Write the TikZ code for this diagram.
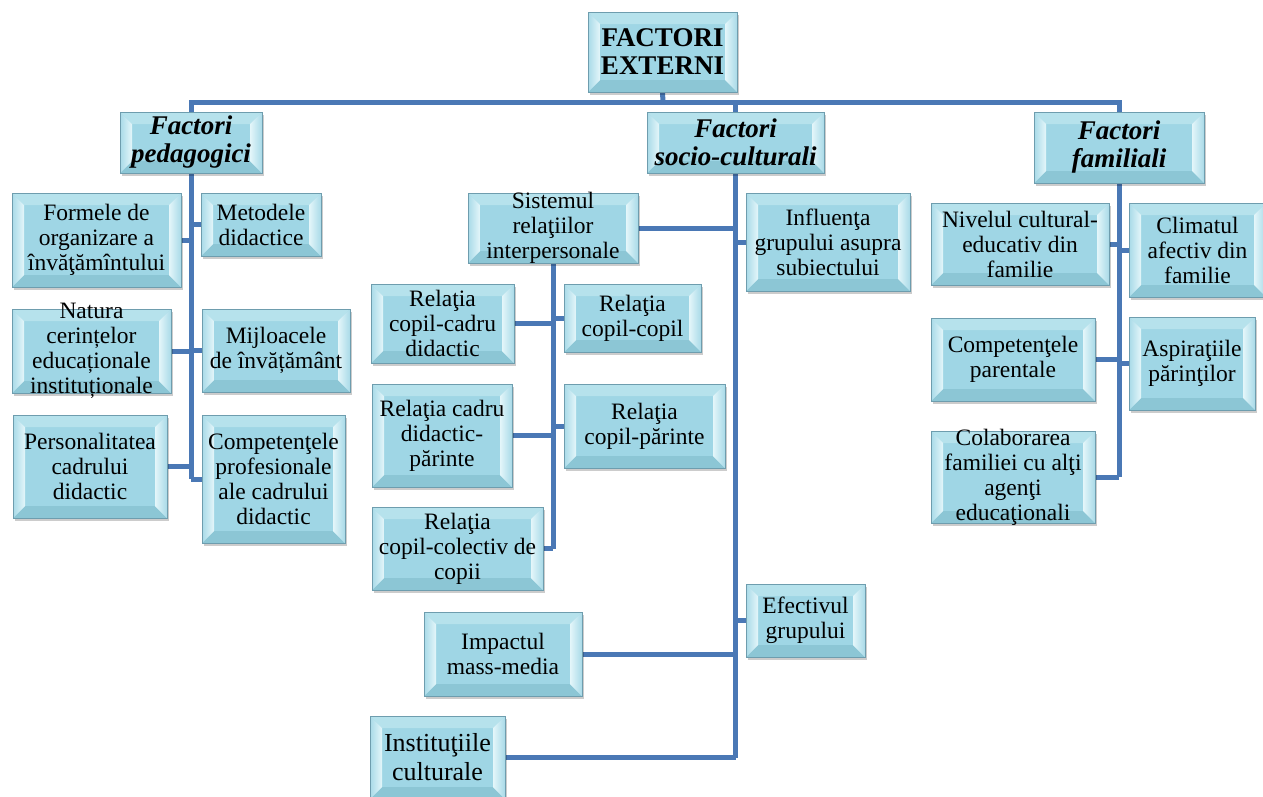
\documentclass[tikz,border=0pt]{standalone}
\usepackage{fontspec}
\setmainfont{Liberation Serif}
\usetikzlibrary{shadows}
\pgfdeclarelayer{bg}
\pgfsetlayers{bg,main}
\definecolor{boxfill}{HTML}{9FD6E5}
\definecolor{boxborder}{HTML}{6E9DAE}
\definecolor{bvtopc}{HTML}{B6E2EC}
\definecolor{bvbotc}{HTML}{8CC6D5}
\definecolor{bvlite}{HTML}{E4F6FA}
\definecolor{linkc}{HTML}{4A78B5}
\tikzset{
  bevel/.style={path picture={
    \def\bvw{12}
    \path (path picture bounding box.north west) coordinate (q1)
          (path picture bounding box.north east) coordinate (q2)
          (path picture bounding box.south east) coordinate (q3)
          (path picture bounding box.south west) coordinate (q4);
    \fill[bvtopc] (q1) -- (q2) -- ([shift={(-\bvw,\bvw)}]q2) -- ([shift={(\bvw,\bvw)}]q1) -- cycle;
    \fill[bvbotc] (q4) -- (q3) -- ([shift={(-\bvw,-\bvw)}]q3) -- ([shift={(\bvw,-\bvw)}]q4) -- cycle;
    \shade[left color=boxfill!90!white, right color=bvlite] (q1) -- ([shift={(\bvw,\bvw)}]q1) -- ([shift={(\bvw,-\bvw)}]q4) -- (q4) -- cycle;
    \shade[left color=bvlite, right color=boxfill!90!white] (q2) -- ([shift={(-\bvw,\bvw)}]q2) -- ([shift={(-\bvw,-\bvw)}]q3) -- (q3) -- cycle;
  }},
  box/.style={rectangle, draw=boxborder, line width=0.8pt, fill=boxfill, inner sep=0pt,
    bevel, drop shadow={shadow xshift=2pt, shadow yshift=-3pt, opacity=0.2, fill=black}},
  body/.style={align=center, inner sep=0pt, font=\fontsize{23.5}{25}\selectfont},
  big/.style={align=center, inner sep=0pt, font=\fontsize{26}{29}\selectfont},
  head/.style={align=center, inner sep=0pt, font=\fontsize{27}{28}\selectfont\bfseries\itshape},
  title/.style={align=center, inner sep=0pt, font=\fontsize{27}{28}\selectfont\bfseries},
  link/.style={draw=linkc, line width=5pt}
}
\newcommand\mybox[7]{%
  \pgfmathsetmacro\cxx{(#2+#4)/2}\pgfmathsetmacro\cyy{(#3+#5)/2}%
  \pgfmathsetmacro\www{#4-#2}\pgfmathsetmacro\hhh{#5-#3}%
  \node[box, minimum width=\www pt, minimum height=\hhh pt,
        label={[#6]center:{#7}}] (#1) at (\cxx,\cyy) {};}
\begin{document}
\begin{tikzpicture}[x=1pt,y=-1pt]
\useasboundingbox (0,0) rectangle (1263,796);
\begin{pgfonlayer}{bg}
\fill[white] (0,0) rectangle (1263,796);
\end{pgfonlayer}
% top levels
\mybox{root}{588}{12}{737}{92}{title}{FACTORI\\EXTERNI}
\mybox{ped}{120}{112}{262}{173}{head}{Factori\\pedagogici}
\mybox{soc}{647}{112}{824}{173}{head}{Factori\\socio-culturali}
\mybox{fam}{1034}{112}{1204}{183}{head}{Factori\\familiali}
% pedagogici
\mybox{formele}{12}{193}{181}{287}{body}{Formele de\\organizare a\\învăţămîntului}
\mybox{metodele}{201}{193}{321}{256}{body}{Metodele\\didactice}
\mybox{natura}{12}{309}{171}{393}{body}{Natura\\cerințelor\\educaționale\\instituționale}
\mybox{mijloace}{202}{309}{350}{392}{body}{Mijloacele\\de învățământ}
\mybox{personal}{13}{415}{167}{518}{body}{Personalitatea\\cadrului\\didactic}
\mybox{compet}{202}{415}{345}{543}{body}{Competenţele\\profesionale\\ale cadrului\\didactic}
% socio-culturali
\mybox{sistem}{468}{193}{638}{263}{body}{Sistemul\\relaţiilor\\interpersonale}
\mybox{influ}{746}{193}{910}{291}{body}{Influenţa\\grupului asupra\\subiectului}
\mybox{rcc}{371}{284}{514}{363}{body}{Relaţia\\copil-cadru\\didactic}
\mybox{rcopil}{564}{284}{701}{352}{body}{Relaţia\\copil-copil}
\mybox{rcdp}{372}{384}{512}{487}{body}{Relaţia cadru\\didactic-\\părinte}
\mybox{rcp}{564}{384}{725}{468}{body}{Relaţia\\copil-părinte}
\mybox{rcol}{372}{507}{543}{590}{body}{Relaţia\\copil-colectiv de\\copii}
\mybox{impact}{424}{612}{582}{696}{body}{Impactul\\mass-media}
\mybox{instit}{370}{716}{505}{799}{big}{Instituţiile\\culturale}
\mybox{efectiv}{746}{584}{865}{657}{body}{Efectivul\\grupului}
% familiali
\mybox{nivel}{931}{203}{1109}{285}{body}{Nivelul cultural-\\educativ din\\familie}
\mybox{climat}{1129}{203}{1266}{297}{body}{Climatul\\afectiv din\\familie}
\mybox{compp}{931}{318}{1095}{401}{body}{Competenţele\\parentale}
\mybox{aspir}{1129}{317}{1255}{410}{body}{Aspiraţiile\\părinţilor}
\mybox{colab}{931}{431}{1095}{523}{body}{Colaborarea\\familiei cu alţi\\agenţi\\educaţionali}
% connectors
\begin{pgfonlayer}{bg}
\coordinate (bus) at (663,102);
\draw[link] (root.south) -- (bus);
\draw[link] (ped.north) |- (bus) -| (fam.north);
\draw[link] (soc.north) -- (soc.north |- bus);
% pedagogici trunk
\draw[link] (ped.south) -- (ped.south |- compet.west);
\foreach \n in {formele,natura,personal} \draw[link] (\n.east) -- (\n.east -| ped.south);
\foreach \n in {metodele,mijloace} \draw[link] (\n.west) -- (\n.west -| ped.south);
\draw[link] (compet.west) -- (compet.west -| ped.south);
% socio trunk
\draw[link] (soc.south) -- (soc.south |- instit.east);
\draw[link] (sistem.east) -- (sistem.east -| soc.south);
\foreach \n in {influ,efectiv} \draw[link] (\n.west) -- (\n.west -| soc.south);
\foreach \n in {impact,instit} \draw[link] (\n.east) -- (\n.east -| soc.south);
% sistem trunk
\draw[link] (sistem.south) -- (sistem.south |- rcol.east);
\foreach \n in {rcc,rcdp,rcol} \draw[link] (\n.east) -- (\n.east -| sistem.south);
\foreach \n in {rcopil,rcp} \draw[link] (\n.west) -- (\n.west -| sistem.south);
% familiali trunk
\draw[link] (fam.south) -- (fam.south |- colab.east);
\foreach \n in {nivel,compp,colab} \draw[link] (\n.east) -- (\n.east -| fam.south);
\foreach \n in {climat,aspir} \draw[link] (\n.west) -- (\n.west -| fam.south);
\end{pgfonlayer}
\end{tikzpicture}
\end{document}
